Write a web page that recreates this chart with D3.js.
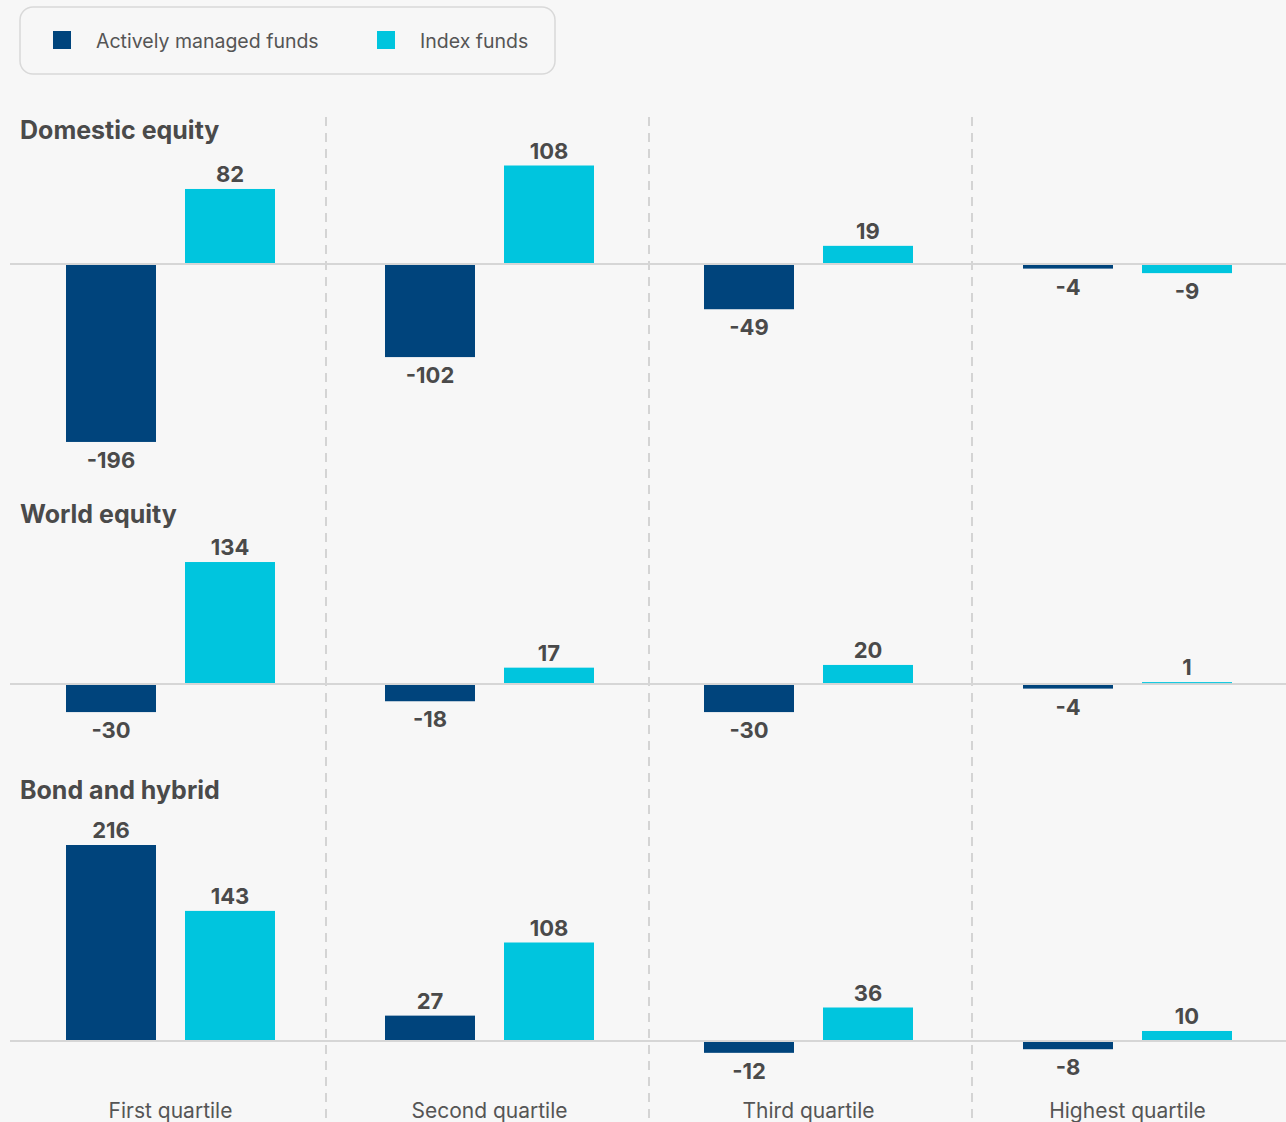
<!DOCTYPE html>
<html>
<head>
<meta charset="utf-8">
<script src="https://cdn.jsdelivr.net/npm/d3@7"></script>
<style>
  html, body { margin: 0; padding: 0; background: #f7f7f7; }
  svg { display: block; font-family: Inter, "Open Sans", sans-serif; }
</style>
</head>
<body>
<svg id="chart" width="1286" height="1122"></svg>
<script>
// Net flows by fund category and performance quartile
const quartiles = ["First quartile", "Second quartile", "Third quartile", "Highest quartile"];
const seriesNames = ["Actively managed funds", "Index funds"];
const panels = ["Domestic equity", "World equity", "Bond and hybrid"];

const activeDomestic = [-196, -102, -49, -4];
const indexDomestic  = [82, 108, 19, -9];
const activeWorld    = [-30, -18, -30, -4];
const indexWorld     = [134, 17, 20, 1];
const activeBond     = [216, 27, -12, -8];
const indexBond      = [143, 108, 36, 10];

const panelData = [
  { title: panels[0], active: activeDomestic, index: indexDomestic },
  { title: panels[1], active: activeWorld,    index: indexWorld },
  { title: panels[2], active: activeBond,     index: indexBond }
];

const colors = { "Actively managed funds": "#00447c", "Index funds": "#00c5de" };
const textColor = "#4a4a4a";

const W = 1286, H = 1122;
const svg = d3.select("#chart");
svg.append("rect").attr("width", W).attr("height", H).attr("fill", "#f7f7f7");

// Horizontal layout
const x = d3.scaleBand().domain(quartiles).range([11, 1287]);
const xs = d3.scaleBand().domain(seriesNames).range([0, x.bandwidth()])
  .paddingInner(0.2437).paddingOuter(0.4622);
const divX = d3.scaleBand().domain(quartiles).range([3, 1295]);

// Panel layout: zero line and title baseline of each panel
const panelBase = [264, 684, 1041];
const titleY = [139, 523, 799];
const valueMax = d3.max(panelData.flatMap(p => p.active.concat(p.index)));
const gapHalf = 1; // bars stop at the edges of the 2px zero line

// Dashed column dividers
svg.append("g").selectAll("line")
  .data(quartiles.slice(1))
  .join("line")
  .attr("x1", d => divX(d)).attr("x2", d => divX(d))
  .attr("y1", 117).attr("y2", H)
  .attr("stroke", "#d4d4d4").attr("stroke-width", 2)
  .attr("stroke-dasharray", "9,7");

panelData.forEach((p, i) => {
  const base = panelBase[i];
  const y = d3.scaleLinear().domain([0, valueMax]).range([base, base - 195]);
  const g = svg.append("g");

  g.append("text")
    .attr("x", 20).attr("y", titleY[i])
    .attr("font-size", 25).attr("font-weight", 700)
    .attr("fill", textColor)
    .text(p.title);

  const rows = [];
  quartiles.forEach((q, qi) => {
    rows.push({ q, s: seriesNames[0], v: p.active[qi] });
    rows.push({ q, s: seriesNames[1], v: p.index[qi] });
  });

  // zero line
  g.append("line")
    .attr("x1", 10).attr("x2", W)
    .attr("y1", y(0)).attr("y2", y(0))
    .attr("stroke", "#d6d6d6").attr("stroke-width", 2);

  const shift = d => (d.v >= 0 ? -gapHalf : gapHalf);
  g.selectAll("rect.bar")
    .data(rows)
    .join("rect")
    .attr("class", "bar")
    .attr("x", d => x(d.q) + xs(d.s))
    .attr("width", xs.bandwidth())
    .attr("y", d => Math.min(y(d.v), y(0)) + shift(d))
    .attr("height", d => Math.max(1, Math.abs(y(d.v) - y(0))))
    .attr("fill", d => colors[d.s]);

  g.selectAll("text.val")
    .data(rows)
    .join("text")
    .attr("class", "val")
    .attr("x", d => x(d.q) + xs(d.s) + xs.bandwidth() / 2)
    .attr("y", d => d.v >= 0 ? y(d.v) - 8 : y(d.v) + 27)
    .attr("text-anchor", "middle")
    .attr("font-size", 22).attr("font-weight", 700)
    .attr("fill", textColor)
    .text(d => d.v);
});

// Quartile labels along the bottom
svg.append("g").selectAll("text")
  .data(quartiles)
  .join("text")
  .attr("x", d => x(d) + x.bandwidth() / 2)
  .attr("y", 1118)
  .attr("text-anchor", "middle")
  .attr("font-size", 21)
  .attr("fill", "#555")
  .text(d => d);

// Legend
const legend = svg.append("g");
legend.append("rect")
  .attr("x", 20).attr("y", 7).attr("width", 535).attr("height", 67)
  .attr("rx", 13).attr("fill", "#f7f7f7")
  .attr("stroke", "#d9d9d9").attr("stroke-width", 1.5);
const legendX = [53, 377];
seriesNames.forEach((s, i) => {
  legend.append("rect")
    .attr("x", legendX[i]).attr("y", 31).attr("width", 18).attr("height", 18)
    .attr("fill", colors[s]);
  legend.append("text")
    .attr("x", legendX[i] + 43).attr("y", 48)
    .attr("font-size", 19.5).attr("fill", "#555")
    .text(s);
});
</script>
</body>
</html>
